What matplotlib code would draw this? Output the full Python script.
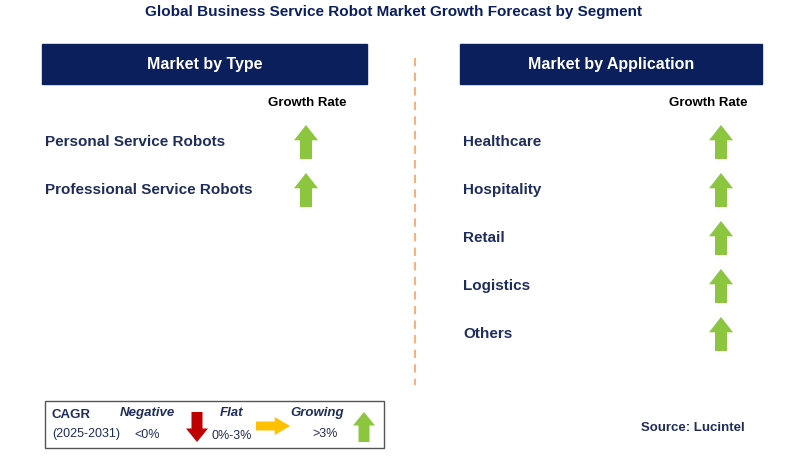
import matplotlib.pyplot as plt
from matplotlib.patches import Rectangle, Polygon

plt.rcParams['font.family'] = 'Liberation Sans'

NAVY = '#0b1f5c'
TEXT = '#1f2d5a'

title = 'Global Business Service Robot Market Growth Forecast by Segment'
type_segments = ['Personal Service Robots', 'Professional Service Robots']
type_trend = ['up', 'up']
app_segments = ['Healthcare', 'Hospitality', 'Retail', 'Logistics', 'Others']
app_trend = ['up', 'up', 'up', 'up', 'up']

COLORS = {'up': '#8cc63f', 'down': '#c00000', 'flat': '#ffc000'}


def arrow_pts(cx, cy, w, h):
    hw, sw, hh = w / 2, w / 4, h * 0.45
    return [(cx, cy - h/2), (cx + hw, cy - h/2 + hh), (cx + sw, cy - h/2 + hh),
            (cx + sw, cy + h/2), (cx - sw, cy + h/2), (cx - sw, cy - h/2 + hh),
            (cx - hw, cy - h/2 + hh)]


def arrow(ax, cx, cy, kind, w=24, h=34):
    pts = arrow_pts(cx, cy, w, h)
    if kind == 'down':
        pts = [(x, 2 * cy - y) for x, y in pts]
    elif kind == 'flat':
        pts = [(cx - (y - cy), cy + (x - cx)) for x, y in pts]
    ax.add_patch(Polygon(pts, closed=True, color=COLORS[kind], lw=0))


fig = plt.figure(figsize=(7.88, 4.68), dpi=100)
ax = fig.add_axes([0, 0, 1, 1])
ax.set_xlim(0, 788)
ax.set_ylim(468, 0)
ax.axis('off')

ax.text(394, 12, title, ha='center', va='center', fontsize=11, fontweight='bold', color=NAVY)

# headers
for x0, x1, label in [(42, 367, 'Market by Type'), (460, 762, 'Market by Application')]:
    ax.add_patch(Rectangle((x0, 44), x1 - x0, 40, color=NAVY))
    ax.text((x0 + x1) / 2, 64, label, ha='center', va='center', fontsize=11.5,
            fontweight='bold', color='white')

ax.plot([415, 415], [58, 385], ls=(0, (4, 3)), color='#f4b183', lw=1.5)

ax.text(307, 103, 'Growth Rate', ha='center', va='center', fontsize=9.5, fontweight='bold', color='black')
ax.text(708, 103, 'Growth Rate', ha='center', va='center', fontsize=9.5, fontweight='bold', color='black')

for i, (seg, tr) in enumerate(zip(type_segments, type_trend)):
    y = 142 + 48 * i
    ax.text(45, y, seg, ha='left', va='center', fontsize=11, fontweight='bold', color=TEXT)
    arrow(ax, 306, y, tr)

for i, (seg, tr) in enumerate(zip(app_segments, app_trend)):
    y = 142 + 48 * i
    ax.text(463, y, seg, ha='left', va='center', fontsize=11, fontweight='bold', color=TEXT)
    arrow(ax, 721, y, tr)

# legend box
ax.add_patch(Rectangle((45, 401), 339, 47, fill=False, ec='#555555', lw=1))
ax.text(52, 415, 'CAGR', fontsize=9.5, fontweight='bold', color=TEXT, va='center')
ax.text(52, 434, '(2025-2031)', fontsize=9, color=TEXT, va='center')
ax.text(147, 413, 'Negative', fontsize=9.5, fontweight='bold', style='italic', color=TEXT, ha='center', va='center')
ax.text(147, 435, '<0%', fontsize=9, color=TEXT, ha='center', va='center')
ax.text(232, 413, 'Flat', fontsize=9.5, fontweight='bold', style='italic', color=TEXT, ha='center', va='center')
ax.text(232, 436, '0%-3%', fontsize=9, color=TEXT, ha='center', va='center')
ax.text(317, 413, 'Growing', fontsize=9.5, fontweight='bold', style='italic', color=TEXT, ha='center', va='center')
ax.text(325, 434, '>3%', fontsize=9, color=TEXT, ha='center', va='center')
arrow(ax, 197, 427, 'down', w=22, h=30)
arrow(ax, 273, 426, 'flat', w=18, h=34)
arrow(ax, 364, 427, 'up', w=22, h=30)

ax.text(745, 428, 'Source: Lucintel', ha='right', va='center', fontsize=9.5, fontweight='bold', color=TEXT)

fig.savefig('out.png', dpi=100)
